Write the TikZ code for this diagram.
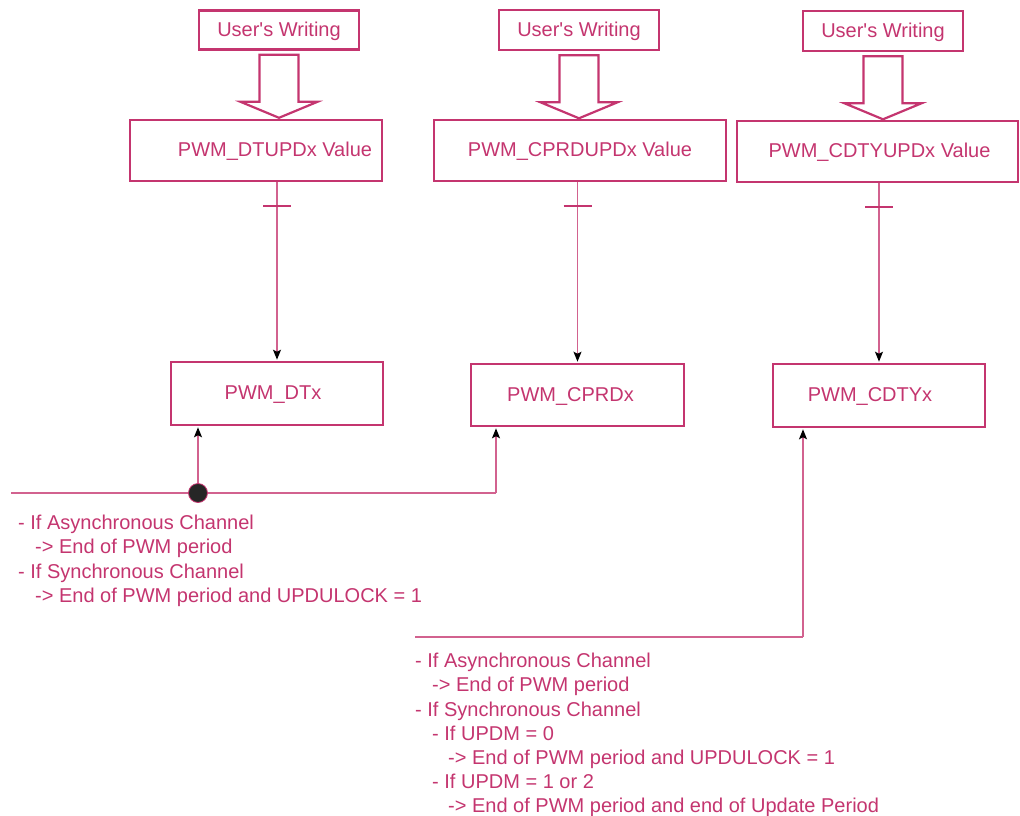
\documentclass[tikz,border=0pt]{standalone}
\usepackage{fontspec}
\setmainfont{Liberation Sans}
\newfontfamily\libsans{Liberation Sans}
\usetikzlibrary{arrows.meta,calc}
\definecolor{mag}{HTML}{C4356F}
\definecolor{magl}{HTML}{D2628F}
\begin{document}
\begin{tikzpicture}[x=1pt,y=-1pt,
  box/.style={draw=mag,line width=2.6pt,text=mag,inner sep=0pt,text height=14.5pt,text depth=2pt,font=\libsans\fontsize{20}{24}\selectfont},
  hollow/.style={draw=mag,line width=2.2pt,line join=miter},
  conn/.style={draw=magl,line width=1.4pt},
  arr/.style={conn,-{Stealth[color=black,length=10pt,width=8pt,inset=2pt]},shorten >=1pt},
  tick/.style={draw=mag,line width=2.2pt},
  note/.style={text=mag,inner sep=0pt,align=left,anchor=north west,font=\libsans\fontsize{20}{24.2}\selectfont}]
\useasboundingbox (0,0) rectangle (1020,816);
% User's Writing boxes
\node[box,minimum width=160pt,minimum height=39pt] (uw1) at (279,30) {User's Writing};
\node[box,minimum width=160pt,minimum height=40pt] (uw2) at (579,30) {User's Writing};
\node[box,minimum width=160pt,minimum height=40pt] (uw3) at (883,31) {User's Writing};
% Value boxes
\node[box,minimum width=252pt,minimum height=61pt] (v1) at (256,150.5) {\hspace*{38pt}PWM\_DTUPDx Value};
\node[box,minimum width=292pt,minimum height=61pt] (v2) at (580,150.5) {PWM\_CPRDUPDx Value};
\node[box,minimum width=281pt,minimum height=61pt] (v3) at (877.5,151.5) {\hspace*{4pt}PWM\_CDTYUPDx Value};
% Register boxes
\node[box,minimum width=212pt,minimum height=63pt] (r1) at (277,393.5) {PWM\_DTx\hspace*{8pt}};
\node[box,minimum width=213pt,minimum height=62pt] (r2) at (577.5,395) {PWM\_CPRDx\hspace*{14pt}};
\node[box,minimum width=212pt,minimum height=63pt] (r3) at (879,395.5) {PWM\_CDTYx\hspace*{18pt}};
% Hollow arrows
\foreach \u in {uw1,uw2,uw3}{
  \draw[hollow] (\u.south) ++(-19.5,4) -- ++(39,0) -- ++(0,47) -- ++(19,0) -- ++(-38.5,16) -- ++(-38.5,-16) -- ++(19,0) -- cycle;
}
% Vertical connectors with tick marks
\foreach \v/\r in {v1/r1,v2/r2,v3/r3}{
  \draw[arr] (\r.north |- \v.south) -- (\r.north);
  \draw[tick] ($(\r.north |- \v.south)+(-14,24)$) -- ++(28,0);
}
% Bus 1
\coordinate (busL) at (11,493);
\coordinate (dot) at (198,493);
\coordinate (busR) at (496,493);
\draw[conn] (busL) -- (busR);
\draw[arr] (busR) -- (busR |- r2.south);
\draw[arr] (dot) -- (dot |- r1.south);
\fill[black!85,draw=mag,line width=0.8pt] (dot) circle (9.5pt);
% Bus 2
\coordinate (bus2L) at (415,637);
\coordinate (bus2R) at (803,637);
\draw[conn] (bus2L) -- (bus2R);
\draw[arr] (bus2R) -- (bus2R |- r3.south);
% Notes
\node[note] (n1) at (18,515) {- If Asynchronous Channel\\\hspace*{17pt}-> End of PWM period\\- If Synchronous Channel\\\hspace*{17pt}-> End of PWM period and UPDULOCK = 1};
\node[note] (n2) at (415,653) {- If Asynchronous Channel\\\hspace*{17pt}-> End of PWM period\\- If Synchronous Channel\\\hspace*{17pt}- If UPDM = 0\\\hspace*{33pt}-> End of PWM period and UPDULOCK = 1\\\hspace*{17pt}- If UPDM = 1 or 2\\\hspace*{33pt}-> End of PWM period and end of Update Period};
\end{tikzpicture}
\end{document}
